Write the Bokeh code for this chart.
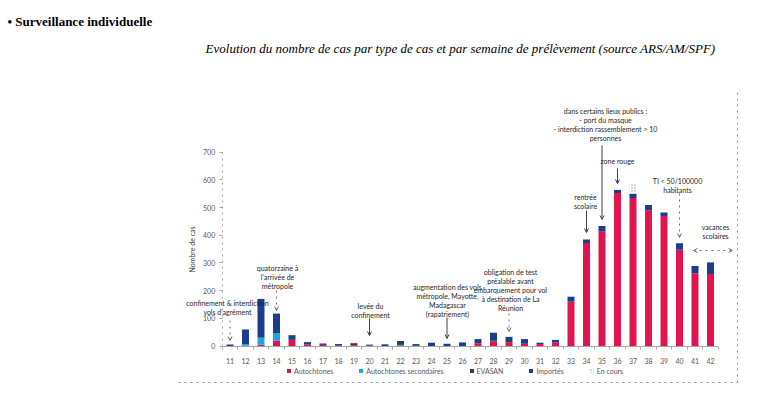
from bokeh.plotting import figure
from bokeh.models import (Range1d, FixedTicker, Legend, LegendItem, Arrow, OpenHead, ColumnDataSource)
from bokeh.core.properties import value
from bokeh.transform import stack
from bokeh.embed import file_html
from bokeh.resources import INLINE

# ---------------- data ----------------
weeks = list(range(11, 43))
autochtones = [0, 1, 5, 20, 22, 6, 4, 1, 3, 1, 0, 0, 0, 0, 0, 0, 10, 16, 12, 8, 7, 12,
               160, 372, 413, 553, 535, 490, 470, 348, 262, 260]
secondaires = [0, 6, 25, 27, 0, 0, 0, 0, 0, 0, 0, 4, 0, 0, 0, 0, 0, 0, 0, 0, 0, 0,
               0, 0, 0, 0, 0, 0, 0, 0, 0, 0]
evasan = [0, 0, 0, 0, 0, 0, 0, 0, 7, 0, 0, 14, 3, 0, 0, 0, 0, 5, 6, 0, 0, 0,
          0, 0, 0, 0, 0, 0, 0, 0, 0, 0]
importes = [5, 53, 140, 70, 17, 8, 5, 6, 1, 4, 6, 0, 4, 12, 8, 13, 15, 27, 15, 17, 5, 10,
            18, 13, 20, 11, 15, 19, 12, 23, 27, 42]
en_cours = [0] * 25 + [4, 35] + [0] * 5

series_names = ["Autochtones", "Autochtones secondaires", "EVASAN", "Importés", "En cours"]
y_ticks = [0, 100, 200, 300, 400, 500, 600, 700]

# ---------------- layout constants (page pixels) ----------------
FIG_W, FIG_H = 760, 394
OFF = 0
X0_PAGE, PX_WEEK = 221.75, 15.5      # page x of week boundary 10.5, px per week
Y0_PAGE, PX_CASE = 345.5, 193.8 / 700.0


def X(px):
    return 10.5 + (px - X0_PAGE) / PX_WEEK


def Y(py):
    return (Y0_PAGE - py) / PX_CASE


p = figure(width=FIG_W, height=FIG_H, output_backend="svg", toolbar_location=None,
           x_range=Range1d(X(OFF), X(OFF + FIG_W)), y_range=Range1d(Y(OFF + FIG_H), Y(OFF)),
           min_border=0, min_border_left=0, min_border_right=0, min_border_top=0,
           min_border_bottom=0)
p.outline_line_color = None
p.xgrid.visible = False
p.ygrid.visible = False
p.background_fill_color = "white"
p.border_fill_color = "white"

src = ColumnDataSource(dict(week=weeks, a=autochtones, s=secondaires, e=evasan,
                            i=importes, c=en_cours))
cols = ["a", "s", "e", "i", "c"]
colors = ["#E2144F", "#1AA6DF", "#3B3B3B", "#1E3C8C", "#FFFFFF"]
renderers = []
for k, col in enumerate(cols):
    kw = {}
    if col == "c":
        kw = dict(hatch_pattern="dot", hatch_color="#A0A0A0", hatch_scale=3)
    r = p.vbar(x="week", width=0.45, bottom=stack(*cols[:k]), top=stack(*cols[:k + 1]),
               source=src, fill_color=colors[k], line_color=None, **kw)
    renderers.append(r)

# axes
xa = p.xaxis[0]
xa.fixed_location = 0
xa.bounds = (10.5, 42.5)
xa.ticker = FixedTicker(ticks=weeks, minor_ticks=[w - 0.5 for w in weeks] + [42.5])
xa.axis_line_color = "#A6A6A6"
xa.major_tick_line_color = None
xa.minor_tick_line_color = "#A6A6A6"
xa.minor_tick_out = 3
xa.minor_tick_in = 0
xa.major_label_text_font = "Lato"
xa.major_label_text_font_size = "7px"
xa.major_label_text_color = "#595959"
xa.major_label_standoff = 6

ya = p.yaxis[0]
ya.fixed_location = 10.5
ya.bounds = (0, 700)
ya.ticker = FixedTicker(ticks=y_ticks)
ya.minor_tick_line_color = None
ya.axis_line_color = "#A6A6A6"
ya.axis_line_dash = "dotted"
ya.major_tick_line_color = "#A6A6A6"
ya.major_tick_out = 3
ya.major_tick_in = 0
ya.major_label_text_font = "Lato"
ya.major_label_text_font_size = "7px"
ya.major_label_text_color = "#595959"
ya.major_label_standoff = 4
ya.axis_label = "Nombre de cas"
ya.axis_label_text_font = "Lato"
ya.axis_label_text_font_style = "normal"
ya.axis_label_text_font_size = "7px"
ya.axis_label_text_color = "#404040"
ya.axis_label_standoff = 4

# titles
p.text(x=[X(7)], y=[Y(21)], text=["• Surveillance individuelle"],
       text_font=value("Liberation Serif"), text_font_style="bold", text_font_size="13px",
       text_align="left", text_baseline="middle", text_color="black")
p.text(x=[X(460)], y=[Y(48)], text=["Evolution du nombre de cas par type de cas et par semaine de prélèvement (source ARS/AM/SPF)"],
       text_font=value("Liberation Serif"), text_font_style="italic", text_font_size="13px",
       text_align="center", text_baseline="middle", text_color="black")

# chart border (right and bottom, dotted)
p.segment(x0=[X(737), X(178)], y0=[Y(92), Y(382)], x1=[X(737), X(737)], y1=[Y(382), Y(382)],
          line_color="#8C8C8C", line_dash="dotted", line_width=1)

# annotations
notes = [
    (["confinement & interdiction", "vols d’agrément"], 227, 302.7),
    (["quatorzaine à", "l’arrivée de", "métropole"], 277, 267.7),
    (["levée du", "confinement"], 370, 305),
    (["augmentation des vols", "métropole, Mayotte,", "Madagascar", "(rapatriement)"], 447, 286),
    (["obligation de test", "préalable avant", "embarquement pour vol", "à destination de La", "Réunion"], 510, 271.7),
    (["rentrée", "scolaire"], 585, 196),
    (["dans certains lieux publics :", "- port du masque", "- interdiction rassemblement > 10", "personnes"], 605, 110),
    (["zone rouge"], 617, 160.7),
    (["TI < 50/100000", "habitants"], 677, 180),
    (["vacances", "scolaires"], 715, 226),
]
tx, ty, tt = [], [], []
for lines, cx, y0 in notes:
    for j, line in enumerate(lines):
        tx.append(X(cx))
        ty.append(Y(y0 + j * 9))
        tt.append(line)
p.text(x=tx, y=ty, text=tt, text_font=value("Lato"), text_font_size="7px",
       text_align="center", text_baseline="middle", text_color="#262626")

arrows = [
    (11, 320, 340, "dotted"), (14, 290, 310, "dotted"), (20, 318, 335, "solid"),
    (25, 317, 338, "solid"), (29, 313, 331, "dotted"), (34, 210, 232, "solid"),
    (35, 145, 219, "solid"), (36, 168, 183, "solid"), (40, 193, 237, "dotted"),
]
for w, ys, ye, dash in arrows:
    col = "#404040" if dash == "solid" else "#707070"
    p.add_layout(Arrow(end=OpenHead(size=4, line_color=col, line_width=1),
                       x_start=w, y_start=Y(ys), x_end=w, y_end=Y(ye),
                       line_color=col, line_width=1, line_dash=dash))
p.add_layout(Arrow(start=OpenHead(size=4, line_color="#707070", line_width=1),
                   end=OpenHead(size=4, line_color="#707070", line_width=1),
                   x_start=X(693), y_start=Y(250), x_end=X(732), y_end=Y(250),
                   line_color="#707070", line_width=1, line_dash="dotted"))

legend = Legend(items=[LegendItem(label=n, renderers=[r]) for n, r in zip(series_names, renderers)],
                orientation="horizontal", location=(286, 19))
legend.glyph_width = 5
legend.glyph_height = 5
legend.label_height = 9
legend.label_standoff = 3
legend.spacing = 25
legend.padding = 0
legend.margin = 0
legend.border_line_color = None
legend.background_fill_alpha = 0
legend.label_text_font = "Lato"
legend.label_text_font_size = "7px"
legend.label_text_color = "#595959"
p.add_layout(legend)

open("out.html", "w").write(file_html(p, INLINE))
